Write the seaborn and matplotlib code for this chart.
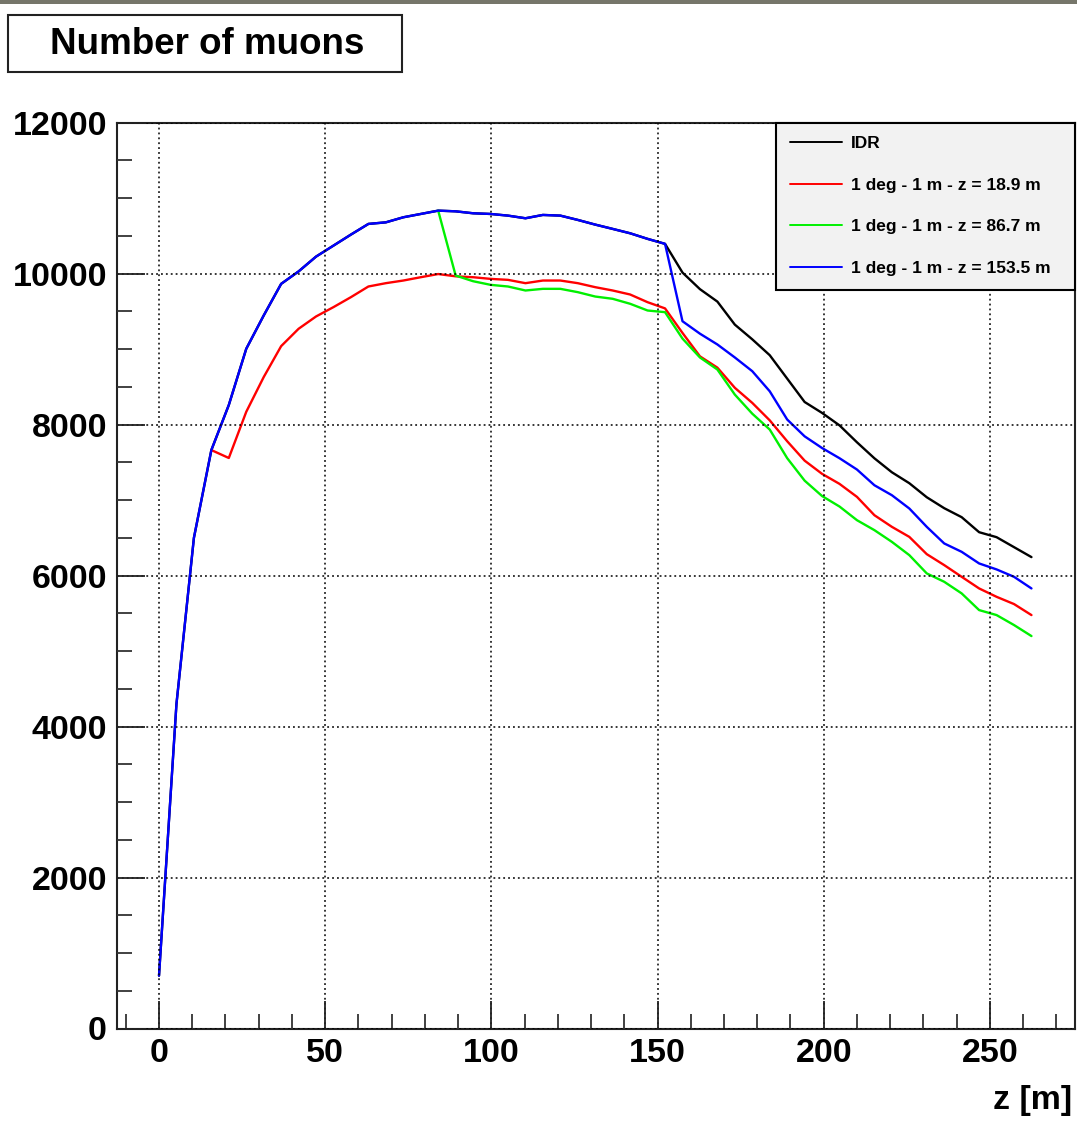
import numpy as np
import pandas as pd
import matplotlib
matplotlib.use("Agg")
import matplotlib.pyplot as plt
import seaborn as sns
from matplotlib import font_manager as fm
from matplotlib.ticker import MultipleLocator
from matplotlib.patches import Rectangle

# ---------------- data ----------------
step = 5.25
z_all = [round(step * i, 2) for i in range(51)]

idr = [700, 4300, 6500, 7663, 8260, 9005, 9446, 9865, 10030, 10226,
       10372, 10518, 10659, 10680, 10747, 10791, 10835, 10826, 10800, 10791,
       10769, 10734, 10778, 10769, 10712, 10650, 10593, 10535, 10461, 10395,
       10015, 9795, 9630, 9325, 9130, 8920, 8610, 8300, 8155, 7990,
       7766, 7554, 7369, 7224, 7038, 6893, 6774, 6575, 6509, 6377, 6245]

blue = idr[:30] + [9370, 9205, 9062, 8890, 8708, 8442, 8068, 7845, 7690, 7555,
                   7405, 7197, 7065, 6889, 6646, 6426, 6315, 6161, 6082, 5984, 5830]

red_start = 3
red = [7663, 7558, 8170, 8630, 9040, 9270, 9433, 9557, 9689, 9830,
       9874, 9909, 9953, 9995, 9965, 9953, 9931, 9918, 9874, 9909,
       9909, 9874, 9821, 9777, 9724, 9622, 9540,
       9215, 8905, 8755, 8488, 8288, 8057, 7780, 7523, 7348, 7215,
       7043, 6800, 6646, 6513, 6284, 6139, 5984, 5830, 5719, 5623, 5477]

green_start = 16
green = [10835, 9975, 9900, 9852, 9830, 9777, 9799, 9799, 9755, 9697,
         9667, 9601, 9512, 9490,
         9140, 8890, 8730, 8398, 8145, 7935, 7556, 7258, 7054, 6915,
         6734, 6602, 6447, 6271, 6029, 5918, 5764, 5543, 5477, 5345, 5199]

labels = ["IDR", "1 deg - 1 m - z = 18.9 m", "1 deg - 1 m - z = 86.7 m",
          "1 deg - 1 m - z = 153.5 m"]
colors = ["#000000", "#ff0000", "#00f000", "#0000ff"]

x_ticks = [0, 50, 100, 150, 200, 250]
y_ticks = [0, 2000, 4000, 6000, 8000, 10000, 12000]

# ---------------- fonts / style ----------------
sns.set_theme(style="white")
narrow = False
try:
    p = fm.findfont(fm.FontProperties(family="Liberation Sans Narrow", weight="bold"),
                    fallback_to_default=False)
    narrow = "Narrow" in p
except Exception:
    narrow = False
FAM = (["Liberation Sans Narrow"] if narrow else ["Liberation Sans"]) + ["DejaVu Sans"]
plt.rcParams["font.family"] = FAM
plt.rcParams["font.weight"] = "bold"
plt.rcParams["text.color"] = "black"
plt.rcParams["xtick.color"] = "black"
plt.rcParams["ytick.color"] = "black"
plt.rcParams["axes.labelcolor"] = "black"

if narrow:
    fs_tick, fs_title, fs_leg, fs_xl = 27, 30, 14.5, 27
else:
    fs_tick, fs_title, fs_leg, fs_xl = 24.5, 26.5, 12.5, 24.5

# ---------------- figure ----------------
W_PX, H_PX = 1077, 1125
fig = plt.figure(figsize=(W_PX / 100, H_PX / 100), dpi=100)
fig.patch.set_facecolor("white")

ax_l, ax_r, ax_t, ax_b = 116.7, 1075.0, 122.7, 1028.5
ax = fig.add_axes([ax_l / W_PX, 1 - ax_b / H_PX, (ax_r - ax_l) / W_PX, (ax_b - ax_t) / H_PX])
ax.set_facecolor("white")

frames = []
frames.append(pd.DataFrame({"z": z_all, "n": idr, "s": labels[0]}))
frames.append(pd.DataFrame({"z": z_all[red_start:red_start + len(red)], "n": red, "s": labels[1]}))
frames.append(pd.DataFrame({"z": z_all[green_start:green_start + len(green)], "n": green, "s": labels[2]}))
frames.append(pd.DataFrame({"z": z_all, "n": blue, "s": labels[3]}))

handles = []
for df, c, lab in zip(frames, colors, labels):
    sns.lineplot(data=df, x="z", y="n", color=c, linewidth=1.7, estimator=None,
                 sort=False, ax=ax, legend=False)
    handles.append(matplotlib.lines.Line2D([], [], color=c, linewidth=1.4, label=lab))

ax.set_xlim(-12.73, 275.6)
ax.set_ylim(0, 12000)
ax.set_xticks(x_ticks)
ax.set_yticks(y_ticks)
ax.xaxis.set_minor_locator(MultipleLocator(10))
ax.yaxis.set_minor_locator(MultipleLocator(500))
ax.set_xlabel("")
ax.set_ylabel("")

ax.tick_params(axis="both", which="major", direction="in", length=20, width=1.3,
               color="#222222", labelcolor="black", labelsize=fs_tick,
               bottom=True, left=True, top=False, right=False)
ax.tick_params(axis="both", which="minor", direction="in", length=10.5, width=1.3,
               color="#333333", bottom=True, left=True, top=False, right=False)
ax.tick_params(axis="y", which="major", pad=7)
ax.tick_params(axis="x", which="major", pad=7)
for lab in ax.get_xticklabels() + ax.get_yticklabels():
    lab.set_fontweight("bold")

for sp in ax.spines.values():
    sp.set_visible(True)
    sp.set_color("#222222")
    sp.set_linewidth(1.5)

ax.grid(True, which="major", color="black", linestyle=(0, (1.2, 2.0)), linewidth=1.1)
ax.set_axisbelow(False)

# legend
x0 = (776 - ax_l) / (ax_r - ax_l)
leg = ax.legend(handles=handles, loc="upper left", bbox_to_anchor=(x0, 0, 1 - x0, 1.0),
                mode="expand", borderaxespad=0, handlelength=3.0,
                handletextpad=0.55, labelspacing=1.52, borderpad=0.78, frameon=True,
                fancybox=False, framealpha=1, facecolor="#f2f2f2", edgecolor="black",
                prop={"weight": "bold", "size": fs_leg})
leg.get_frame().set_linewidth(1.5)
leg.set_zorder(10)
for t in leg.get_texts():
    t.set_color("black")

# x axis title
fig.text(1072 / W_PX, 1 - 1100 / H_PX, "z [m]", ha="right", va="center",
         fontsize=fs_xl, fontweight="bold", color="black")

# title box
fig.patches.append(Rectangle((7.5 / W_PX, 1 - 71.5 / H_PX), (402 - 7.5) / W_PX, (71.5 - 14.5) / H_PX,
                             transform=fig.transFigure, facecolor="white",
                             edgecolor="#222222", linewidth=1.5))
fig.text(207 / W_PX, 1 - 44 / H_PX, "Number of muons", ha="center", va="center",
         fontsize=fs_title, fontweight="bold", color="black")

# top strip
fig.patches.append(Rectangle((0, 1 - 4 / H_PX), 1, 4 / H_PX, transform=fig.transFigure,
                             facecolor="#76766a", edgecolor="none"))

fig.savefig("out.png", dpi=100)
